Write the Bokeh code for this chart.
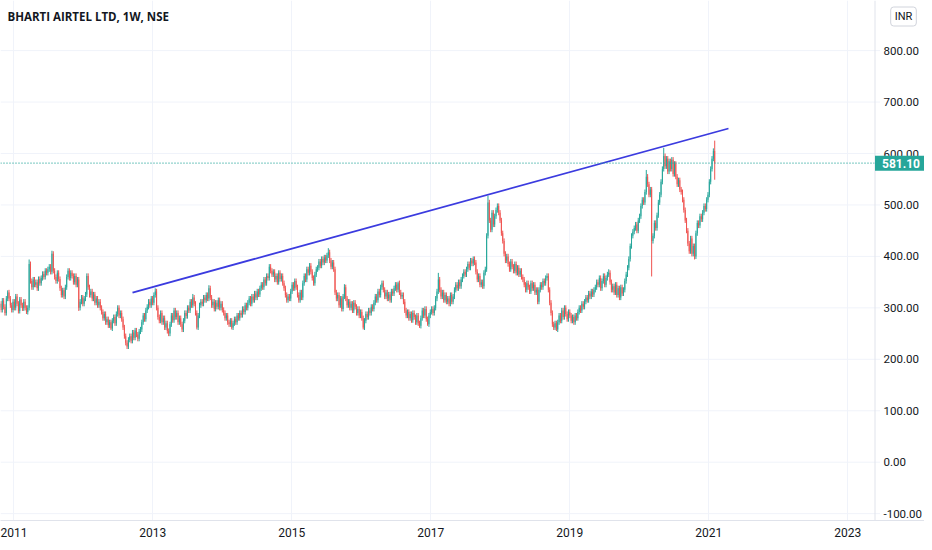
import numpy as np
from bokeh.plotting import figure
from bokeh.models import Range1d, FixedTicker, Span, Label, ColumnDataSource
from bokeh.core.properties import value
from bokeh.embed import file_html
from bokeh.resources import INLINE

TITLE = "BHARTI AIRTEL LTD, 1W, NSE"
CURRENCY = "INR"
LAST_PRICE = 581.10

# weekly closes, oldest first
CLOSES = [
    308, 296, 314, 302, 290, 318, 330,
    318, 305, 296, 312, 300, 322, 308, 294, 316, 305, 299, 312, 300,
    292, 300, 385,
    352, 340, 355, 345, 350, 338, 356, 348,
    358, 366, 360, 372, 368, 375, 380, 370, 405,
    372, 360, 352, 368, 356,
    338, 325, 334, 322, 340,
    360, 372, 358, 368, 362,
    350, 362, 345, 355, 300,
    312, 320, 308, 318, 326, 362,
    340, 325, 332, 318, 326, 310, 318, 305, 312, 300,
    292, 280, 288, 272, 278, 266, 272, 260,
    275, 282, 270, 288, 300, 285, 290, 278,
    262, 245, 232, 225, 238,
    245, 236, 252, 242, 256, 248, 240, 254, 258,
    272, 285, 278, 295, 302, 312,
    305, 318, 310, 325, 332,
    300, 282, 275,
    290, 272, 280, 262, 270, 255, 250,
    268, 285, 276, 295, 282, 290, 272, 280, 268, 258,
    275, 290, 284, 300, 295, 312, 305, 320,
    308, 290, 262,
    285, 305, 312, 308, 320, 315, 325, 318, 338,
    320, 305, 312, 298, 310, 302, 315, 300, 308, 296,
    290, 280, 285, 272, 268, 275, 262,
    270, 278, 272, 285, 280, 290, 286, 298, 292, 305, 300,
    310, 318, 308, 322, 315, 328, 320, 332, 326,
    338, 345, 340, 355, 348, 362, 358, 380,
    372, 365, 370, 355, 362, 350, 368, 356, 362, 348,
    338, 325, 315, 322, 318,
    332, 345, 338, 352, 340,
    325, 315, 330, 320,
    348, 362, 355, 375, 368, 382,
    370, 358, 348, 365, 375,
    378, 390, 382, 395, 388, 398, 392, 402, 408,
    392, 380, 388, 375,
    330, 318,
    325, 305, 318, 298, 322, 340,
    318, 305, 312, 300, 308, 295, 310, 302, 290, 298, 285, 292, 280, 262,
    275, 288, 282, 295, 290, 302, 298,
    310, 322, 315, 332, 325, 340, 348,
    335, 322, 330, 318, 326, 315, 332, 328,
    338, 345, 335, 348,
    330, 322, 325, 312,
    295, 285,
    292, 280, 288, 276, 290, 282, 272, 285, 270, 265,
    280, 295, 285, 298, 278, 268,
    285, 292, 298, 290, 300,
    318, 332, 355,
    335, 322, 330, 315, 325, 312,
    318, 308, 325, 312, 322,
    335, 345, 338, 350, 342,
    355, 362, 370, 365, 375,
    385, 378, 392, 386, 395, 388,
    370, 355, 362, 345, 350, 342,
    368, 375, 440, 505,
    470, 452, 485, 462,
    478, 490, 498, 485,
    470, 445, 430,
    405, 392, 400,
    385, 375, 390, 380, 372, 385, 368, 378, 365, 372, 360,
    355, 345, 335, 348,
    340, 332, 348, 338, 345, 330, 335, 312,
    335, 345, 340, 352, 348, 358, 362,
    335, 310, 290,
    268, 262, 270, 258,
    272, 285, 275, 295, 282, 300, 288, 278, 292, 285,
    275, 282, 272, 285, 280,
    292, 300, 295, 308, 302,
    312, 320, 315, 328, 322, 332, 326, 335,
    340, 350, 345, 358, 338, 352, 362, 345, 358, 365, 368,
    350, 335, 342, 330, 345, 325, 338, 320, 340, 328, 335,
    352, 365, 378, 395,
    420, 440, 448,
    455, 462, 450, 470, 478,
    498, 510, 505, 525, 555,
    540, 520, 530, 430,
    440, 465, 455,
    480, 505, 520, 545,
    570, 595,
    575, 590, 565, 585, 570, 588, 560, 580,
    555, 540, 548, 530, 525,
    510, 490, 470, 450,
    425, 410, 435, 405, 420, 400,
    445, 465, 460, 478, 472,
    485, 498, 492, 510, 520,
    545, 570, 590, 605, 581.10,
]
FIRST_OPEN = 300
# notable wick extremes (bar index -> price)
HIGH_WICKS = {6: 334, 22: 394, 39: 411, 65: 367, 88: 305, 116: 338, 144: 327,
              156: 344, 201: 385, 245: 416, 257: 346, 285: 353, 297: 351,
              327: 368, 354: 400, 364: 518, 371: 503, 408: 367, 454: 375,
              482: 568, 495: 611, 533: 625}
LOW_WICKS = {20: 288, 59: 294, 83: 257, 95: 220, 126: 245, 136: 253, 147: 258,
             173: 258, 271: 258, 313: 261, 319: 265, 401: 307, 415: 255,
             486: 361, 518: 394, 533: 549}
TYPICAL_WICK = 5

# trend line drawn on the chart (time in years, price)
TREND_T = [2012.708, 2021.283]
TREND_P = [329.8, 648.6]

YEAR_TICKS = [2011, 2013, 2015, 2017, 2019, 2021, 2023]
PRICE_TICKS = [-100, 0, 100, 200, 300, 400, 500, 600, 700, 800]

# bar timing: last weekly bar position and spacing in years
BAR_END = 2021.085
BAR_STEP = 0.019304

UP = "#26a69a"
DOWN = "#ef5350"
GRID = "#f0f3fa"
AXIS = "#e0e3eb"
TEXT = "#131722"

# ---- layout (pixel geometry of the chart frame) ----
W, H = 924, 542
FRAME_H = 520
PX_PER_YEAR = 69.5
X_2011_PX = 13.3
PX_PER_UNIT = 0.5145
ZERO_PX = 461.7
SEP_PX = 874.5


def t_at(px):
    return 2011 + (px - X_2011_PX) / PX_PER_YEAR


def p_at(py):
    return (ZERO_PX - py) / PX_PER_UNIT


T_SEP = t_at(SEP_PX)
T_TICK_END = t_at(SEP_PX + 5)
T_LABEL = t_at(SEP_PX + 8.5)

n = len(CLOSES)
t = BAR_END - (n - 1 - np.arange(n)) * BAR_STEP
opens = [FIRST_OPEN] + CLOSES[:-1]
highs, lows, colors = [], [], []
for i, (o, c) in enumerate(zip(opens, CLOSES)):
    highs.append(HIGH_WICKS.get(i, max(o, c) + TYPICAL_WICK))
    lows.append(LOW_WICKS.get(i, min(o, c) - TYPICAL_WICK))
    colors.append(UP if c >= o else DOWN)

src = ColumnDataSource(dict(t=t, h=highs, l=lows,
                            top=[max(a, b) for a, b in zip(opens, CLOSES)],
                            bot=[min(a, b) for a, b in zip(opens, CLOSES)],
                            col=colors))

x0, x1 = t_at(0), t_at(W)
p = figure(width=W, height=H,
           x_range=Range1d(x0, x1), y_range=Range1d(p_at(FRAME_H), p_at(0)),
           toolbar_location=None, output_backend="svg",
           min_border_left=0, min_border_top=0, min_border_right=0,
           min_border_bottom=H - FRAME_H)
p.yaxis.visible = False
p.outline_line_color = None
p.background_fill_color = "white"
p.border_fill_color = "white"

# grid
p.xgrid.ticker = FixedTicker(ticks=YEAR_TICKS)
p.xgrid.grid_line_color = GRID
p.ygrid.grid_line_color = None
p.segment(x0=[x0] * len(PRICE_TICKS), x1=[T_TICK_END] * len(PRICE_TICKS),
          y0=PRICE_TICKS, y1=PRICE_TICKS, line_color=GRID, line_width=1)

# price-scale separator
p.add_layout(Span(location=T_SEP, dimension="height", line_color=AXIS, line_width=1))

# candles
p.segment(x0="t", x1="t", y0="l", y1="h", source=src, line_color="col", line_width=1)
p.vbar(x="t", width=BAR_STEP * 0.72, top="top", bottom="bot", source=src,
       fill_color="col", line_color=None)

# trend line
p.line(TREND_T, TREND_P, line_color="#3b3bdf", line_width=1.8)

# last price line
p.segment(x0=[x0], x1=[T_SEP], y0=[LAST_PRICE], y1=[LAST_PRICE],
          line_color=UP, line_dash="1 2", line_width=1.2)

# price scale labels
p.text(x=[T_LABEL] * len(PRICE_TICKS), y=PRICE_TICKS,
       text=["%.2f" % v for v in PRICE_TICKS],
       text_font=value("Roboto"), text_font_size="11.5px", text_color=TEXT,
       text_baseline="middle", text_align="left")

# time axis
p.xaxis.ticker = FixedTicker(ticks=YEAR_TICKS)
p.xaxis.axis_line_color = AXIS
p.xaxis.major_tick_line_color = None
p.xaxis.minor_tick_line_color = None
p.xaxis.major_tick_out = 0
p.xaxis.major_tick_in = 0
p.xaxis.major_label_standoff = 7
p.xaxis.major_label_text_font = "Roboto"
p.xaxis.major_label_text_font_size = "12px"
p.xaxis.major_label_text_color = TEXT

# title
p.add_layout(Label(x=7, y=FRAME_H - 16, x_units="screen", y_units="screen", text=TITLE,
                   text_font="Open Sans", text_font_size="11.5px", text_font_style="bold",
                   text_color=TEXT, text_baseline="middle", text_align="left"))

# last price tag
p.add_layout(Label(x=T_SEP, y=LAST_PRICE, text="%.2f" % LAST_PRICE,
                   text_font="Roboto", text_font_size="12px", text_font_style="bold",
                   text_color="white", text_baseline="middle", text_align="left",
                   background_fill_color=UP,
                   padding=dict(left=7, right=7, top=3, bottom=3)))

# currency badge
p.add_layout(Label(x=t_at(903), y=p_at(16), text=CURRENCY,
                   text_font="Roboto", text_font_size="11px",
                   text_color=TEXT, text_baseline="middle", text_align="center",
                   border_line_color="#d1d4dc", background_fill_color="white",
                   padding=dict(left=4, right=4, top=3, bottom=3), border_radius=3))

open("out.html", "w").write(file_html(p, INLINE))
